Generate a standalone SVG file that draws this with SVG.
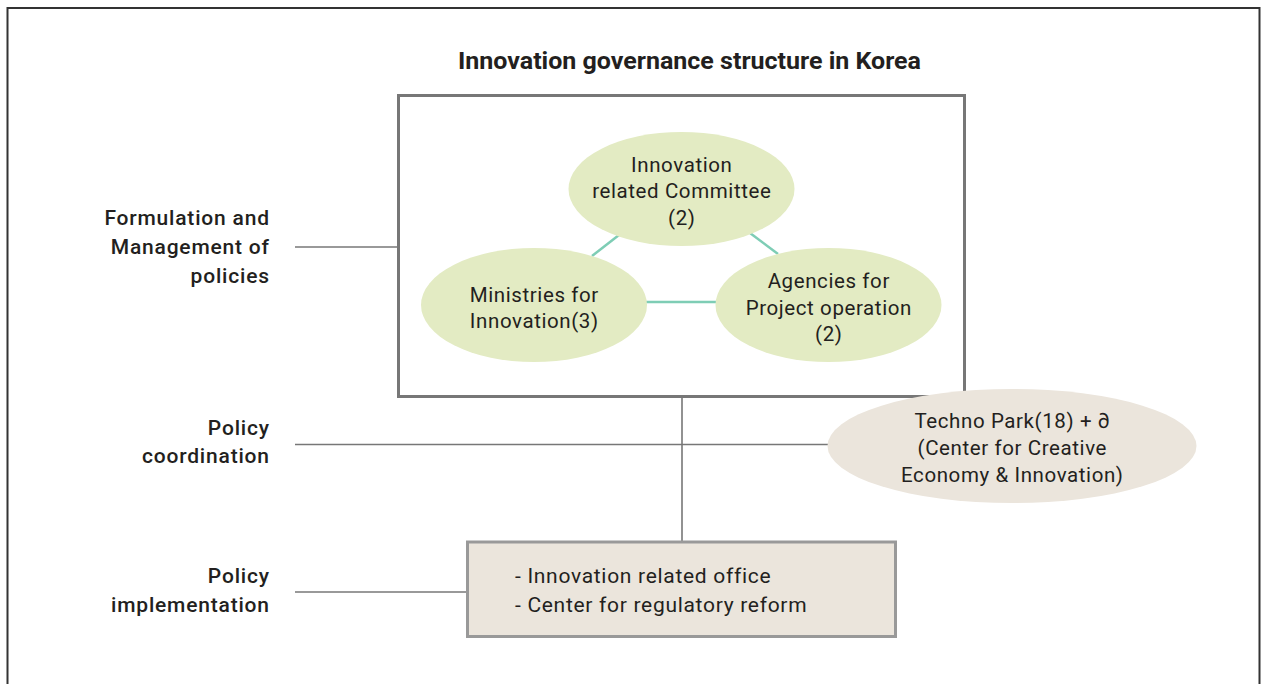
<svg xmlns="http://www.w3.org/2000/svg" width="1261" height="684" viewBox="0 0 1261 684">
<style>
  text { font-family: Roboto, "Liberation Sans", sans-serif; fill: #231f20; }
  .t { font-size: 20.5px; letter-spacing: 0.6px; text-anchor: middle; }
  .lbl { font-size: 21px; font-weight: 500; letter-spacing: 0.8px; text-anchor: end; }
  .box { font-size: 21px; letter-spacing: 0.7px; }
  .title { font-size: 24px; font-weight: 700; text-anchor: middle; }
  .gray { stroke: #777; stroke-width: 1.6; fill: none; }
  .teal { stroke: #7ecdb5; stroke-width: 2.5; fill: none; }
  .green { fill: #e3ebc3; }
  .beige { fill: #ebe5dc; }
</style>
<rect width="1261" height="684" fill="#fff"/>
<path d="M7.5 684 V8 H1259.5 V684" stroke="#333" stroke-width="2" fill="none"/>
<text class="title" x="689.5" y="69" textLength="463" lengthAdjust="spacingAndGlyphs">Innovation governance structure in Korea</text>

<g id="connectors">
  <line class="gray" x1="295" y1="247" x2="398" y2="247"/>
  <line class="gray" x1="295" y1="444.5" x2="830" y2="444.5"/>
  <line class="gray" x1="295" y1="592" x2="467" y2="592"/>
  <line class="gray" x1="682" y1="397" x2="682" y2="541"/>
  <line class="teal" x1="619" y1="235" x2="592" y2="256"/>
  <line class="teal" x1="750" y1="233" x2="778" y2="254"/>
  <line class="teal" x1="646" y1="302" x2="716" y2="302"/>
</g>

<g id="labels">
  <text class="lbl" x="269.8" y="225">Formulation and</text>
  <text class="lbl" x="269.8" y="254">Management of</text>
  <text class="lbl" x="269.8" y="283">policies</text>
  <text class="lbl" x="269.8" y="435">Policy</text>
  <text class="lbl" x="269.8" y="463">coordination</text>
  <text class="lbl" x="269.8" y="583">Policy</text>
  <text class="lbl" x="269.8" y="612">implementation</text>
</g>

<g id="main-box">
  <rect x="398.5" y="95.5" width="566" height="301" fill="none" stroke="#777" stroke-width="3"/>
</g>

<g id="committee">
  <ellipse class="green" cx="681.5" cy="189" rx="113" ry="57"/>
  <text class="t" x="681.8" y="172">Innovation</text>
  <text class="t" x="681.8" y="198">related Committee</text>
  <text class="t" x="681.8" y="225">(2)</text>
</g>

<g id="ministries">
  <ellipse class="green" cx="534" cy="305" rx="113" ry="57"/>
  <text class="t" x="534.3" y="302">Ministries for</text>
  <text class="t" x="534.3" y="328">Innovation(3)</text>
</g>

<g id="agencies">
  <ellipse class="green" cx="828.5" cy="305" rx="113" ry="57"/>
  <text class="t" x="828.8" y="288">Agencies for</text>
  <text class="t" x="828.8" y="315">Project operation</text>
  <text class="t" x="828.8" y="341">(2)</text>
</g>

<g id="techno-park">
  <ellipse class="beige" cx="1012" cy="446" rx="184.5" ry="57"/>
  <text class="t" x="1012.3" y="428">Techno Park(18) + ∂</text>
  <text class="t" x="1012.3" y="455">(Center for Creative</text>
  <text class="t" x="1012.3" y="482">Economy &amp; Innovation)</text>
</g>

<g id="implementation-box">
  <rect x="467.5" y="542" width="428" height="94.5" class="beige" stroke="#999" stroke-width="3"/>
  <text class="box" x="515" y="583">- Innovation related office</text>
  <text class="box" x="515" y="612">- Center for regulatory reform</text>
</g>
</svg>
